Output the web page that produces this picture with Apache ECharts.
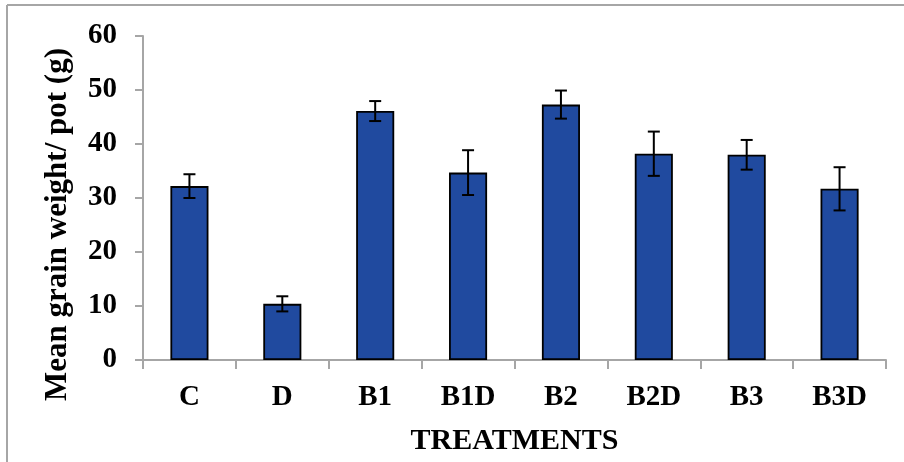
<!DOCTYPE html>
<html>
<head>
<meta charset="utf-8">
<script src="https://cdn.jsdelivr.net/npm/echarts@6/dist/echarts.min.js"></script>
<style>
html,body{margin:0;padding:0;background:#fff;}
#c{width:904px;height:462px;}
</style>
</head>
<body>
<div id="c"></div>
<script>
var categories = ['C', 'D', 'B1', 'B1D', 'B2', 'B2D', 'B3', 'B3D'];
var meanWeight = [32.2, 10.4, 46.1, 34.7, 47.3, 38.2, 38.0, 31.7];
var errWeight = [2.2, 1.4, 1.85, 4.15, 2.6, 4.1, 2.75, 4.0];
var yTicks = [0, 10, 20, 30, 40, 50, 60];

var FONT = '"Liberation Serif", "Times New Roman", serif';
var chart = echarts.init(document.getElementById('c'), null, {renderer: 'canvas'});

var errData = categories.map(function (c, i) {
  return [i, meanWeight[i] - errWeight[i], meanWeight[i] + errWeight[i]];
});

chart.setOption({
  animation: false,
  backgroundColor: '#ffffff',
  grid: {left: 143, right: 18, top: 36, bottom: 102, containLabel: false},
  xAxis: {
    type: 'category',
    data: categories,
    boundaryGap: true,
    axisLine: {lineStyle: {color: '#A6A6A6', width: 2}},
    axisTick: {show: true, length: 9, lineStyle: {color: '#A6A6A6', width: 2}},
    axisLabel: {margin: 23, color: '#000', fontFamily: FONT, fontWeight: 'bold', fontSize: 29},
    name: 'TREATMENTS',
    nameLocation: 'middle',
    nameGap: 66,
    nameTextStyle: {color: '#000', fontFamily: FONT, fontWeight: 'bold', fontSize: 30}
  },
  yAxis: {
    type: 'value',
    min: yTicks[0],
    max: yTicks[yTicks.length - 1],
    interval: 10,
    splitLine: {show: false},
    axisLine: {show: true, lineStyle: {color: '#A6A6A6', width: 2}},
    axisTick: {show: true, length: 8, lineStyle: {color: '#A6A6A6', width: 2}},
    axisLabel: {margin: 26, color: '#000', fontFamily: FONT, fontWeight: 'bold', fontSize: 29}
  },
  graphic: [
    {type: 'line', shape: {x1: 7, y1: 5, x2: 904, y2: 5}, style: {stroke: '#A6A6A6', lineWidth: 2}},
    {type: 'line', shape: {x1: 7, y1: 5, x2: 7, y2: 462}, style: {stroke: '#A6A6A6', lineWidth: 2}},
    {type: 'text', x: 58, y: 224.5, rotation: Math.PI / 2,
     style: {text: 'Mean grain weight/ pot (g)', font: 'bold 31px ' + FONT, fill: '#000',
             textAlign: 'center', textVerticalAlign: 'middle'}}
  ],
  series: [
    {
      type: 'bar',
      data: meanWeight,
      barWidth: '41%',
      itemStyle: {color: '#204A9F', borderColor: '#000', borderWidth: 1.8},
      z: 2
    },
    {
      type: 'custom',
      data: errData,
      z: 3,
      renderItem: function (params, api) {
        var x = api.value(0);
        var lo = api.coord([x, api.value(1)]);
        var hi = api.coord([x, api.value(2)]);
        var hw = 6;
        var st = {stroke: '#000', lineWidth: 2};
        return {
          type: 'group',
          children: [
            {type: 'line', shape: {x1: hi[0], y1: hi[1], x2: lo[0], y2: lo[1]}, style: st},
            {type: 'line', shape: {x1: hi[0] - hw, y1: hi[1], x2: hi[0] + hw, y2: hi[1]}, style: st},
            {type: 'line', shape: {x1: lo[0] - hw, y1: lo[1], x2: lo[0] + hw, y2: lo[1]}, style: st}
          ]
        };
      }
    }
  ]
});
</script>
</body>
</html>
